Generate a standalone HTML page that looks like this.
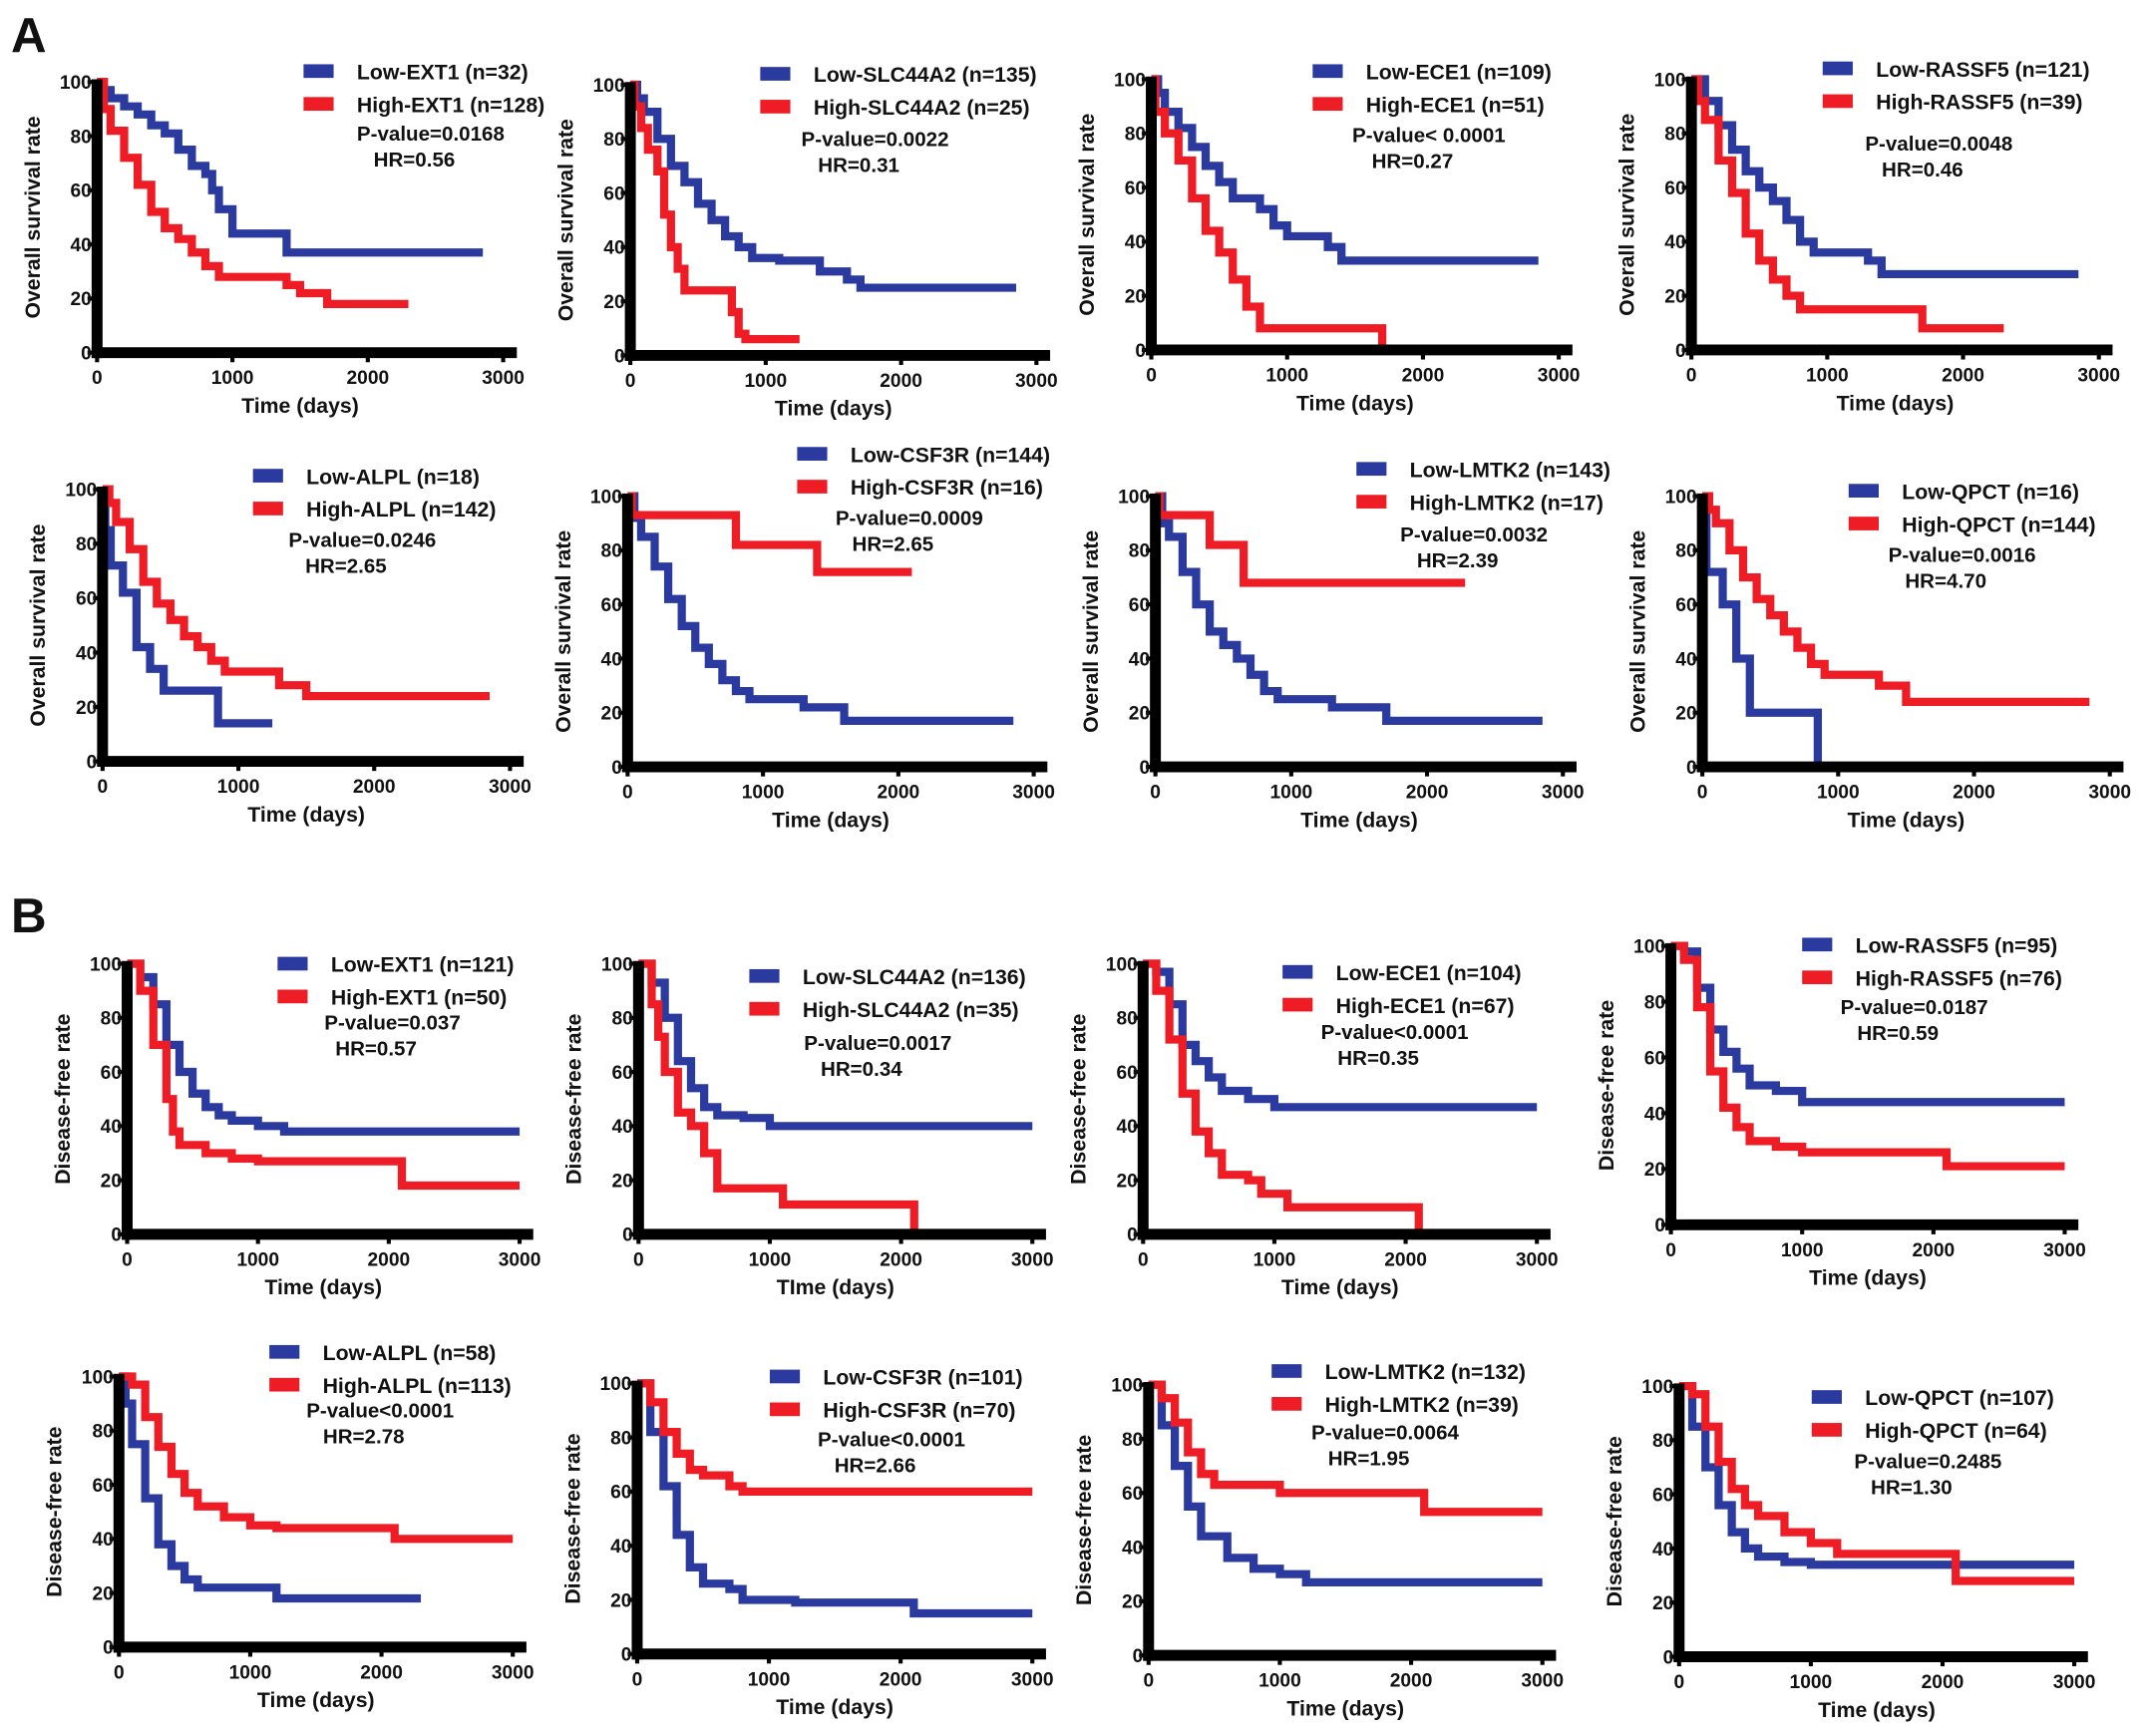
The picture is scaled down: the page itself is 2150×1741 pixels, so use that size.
<!DOCTYPE html>
<html><head><meta charset="utf-8"><style>
html,body{margin:0;padding:0;background:#fff;}
svg{display:block;}
text{font-family:"Liberation Sans",sans-serif;font-weight:bold;fill:#111;}
</style></head><body>
<svg id="fig" width="2150" height="1741" viewBox="0 0 1568 1270" preserveAspectRatio="none">
<text x="8" y="38" font-size="36">A</text>
<text x="8" y="682" font-size="36">B</text>
</svg>
<script>
// ---- data (time in days, survival %) ----
const xTicks=[0,1000,2000,3000];
const yTicks=[0,20,40,60,80,100];
const a1Low=[[0,100],[50,97],[100,94],[200,91],[300,88],[400,84],[500,81],[600,75],[700,69],[800,66],[850,60],[900,53],[1000,44],[1400,37],[2850,37]];
const a1High=[[0,100],[50,90],[100,82],[200,72],[300,62],[400,52],[500,46],[600,42],[700,37],[800,32],[900,28],[1400,25],[1500,22],[1700,18],[2300,18]];
const a2Low=[[0,100],[50,95],[100,90],[200,80],[300,70],[400,64],[500,56],[600,50],[700,44],[800,40],[900,36],[1100,35],[1400,31],[1600,28],[1700,25],[2850,25]];
const a2High=[[0,100],[30,92],[80,84],[130,76],[200,68],[250,52],[300,40],[350,32],[400,24],[750,16],[800,8],[850,6],[1250,6]];
const a3Low=[[0,100],[50,95],[100,88],[200,82],[300,75],[400,68],[500,62],[600,56],[800,52],[900,46],[1000,42],[1300,38],[1400,33],[2850,33]];
const a3High=[[0,100],[30,88],[100,80],[200,70],[300,56],[400,44],[500,36],[600,26],[700,16],[800,8],[1700,0],[1720,0]];
const a4Low=[[0,100],[100,92],[200,83],[300,74],[400,66],[500,60],[600,55],[700,48],[800,40],[900,36],[1300,33],[1400,28],[2850,28]];
const a4High=[[0,100],[50,92],[100,85],[200,70],[300,58],[400,43],[500,33],[600,26],[700,20],[800,15],[1700,8],[2300,8]];
const a5Low=[[0,100],[20,85],[60,72],[150,62],[250,42],[350,34],[450,26],[850,14],[1250,14]];
const a5High=[[0,100],[50,95],[100,88],[200,78],[300,66],[400,58],[500,52],[600,46],[700,42],[800,37],[900,33],[1300,28],[1500,24],[2850,24]];
const a6Low=[[0,100],[50,92],[100,85],[200,74],[300,62],[400,52],[500,44],[600,38],[700,32],[800,28],[900,25],[1300,22],[1600,17],[2850,17]];
const a6High=[[0,100],[30,93],[800,82],[1400,72],[2100,72]];
const a7Low=[[0,100],[50,90],[100,85],[200,72],[300,60],[400,50],[500,45],[600,40],[700,34],[800,28],[900,25],[1300,22],[1700,17],[2850,17]];
const a7High=[[0,100],[30,93],[400,82],[650,68],[2280,68]];
const a8Low=[[0,100],[30,72],[150,60],[250,40],[350,20],[850,0],[860,0]];
const a8High=[[0,100],[50,95],[100,90],[200,80],[300,70],[400,62],[500,56],[600,50],[700,44],[800,38],[900,34],[1300,30],[1500,24],[2850,24]];
const b1Low=[[0,100],[100,95],[200,85],[300,70],[400,60],[500,52],[600,47],[700,44],[800,42],[1000,40],[1200,38],[3000,38]];
const b1High=[[0,100],[100,90],[200,70],[300,50],[350,38],[400,33],[600,30],[800,28],[1000,27],[2100,18],[3000,18]];
const b2Low=[[0,100],[100,93],[200,80],[300,64],[400,54],[500,47],[600,44],[800,43],[1000,40],[3000,40]];
const b2High=[[0,100],[100,85],[150,73],[200,60],[300,45],[400,40],[500,30],[600,17],[1100,11],[2100,0],[2110,0]];
const b3Low=[[0,100],[100,97],[200,85],[300,70],[400,64],[500,58],[600,53],[800,50],[1000,47],[3000,47]];
const b3High=[[0,100],[100,90],[200,72],[300,52],[400,38],[500,30],[600,22],[800,20],[900,15],[1100,10],[2100,0],[2110,0]];
const b4Low=[[0,100],[100,98],[200,85],[300,70],[400,62],[500,56],[600,50],[800,48],[1000,44],[3000,44]];
const b4High=[[0,100],[100,95],[200,78],[300,55],[400,42],[500,35],[600,30],[800,28],[1000,26],[2100,21],[3000,21]];
const b5Low=[[0,100],[50,90],[100,75],[200,55],[300,38],[400,30],[500,25],[600,22],[1200,18],[2300,18]];
const b5High=[[0,100],[100,97],[200,85],[300,74],[400,64],[500,57],[600,52],[800,48],[1000,45],[1200,44],[2100,40],[3000,40]];
const b6Low=[[0,100],[100,82],[200,62],[300,44],[400,32],[500,26],[700,24],[800,20],[1200,19],[2100,15],[3000,15]];
const b6High=[[0,100],[100,93],[200,82],[300,74],[400,68],[500,66],[700,62],[800,60],[3000,60]];
const b7Low=[[0,100],[100,85],[200,70],[300,55],[400,44],[600,36],[800,32],[1000,30],[1200,27],[3000,27]];
const b7High=[[0,100],[100,95],[200,86],[300,75],[400,67],[500,63],[1000,60],[2100,53],[3000,53]];
const b8Low=[[0,100],[100,85],[200,70],[300,56],[400,46],[500,40],[600,37],[800,35],[1000,34],[3000,34]];
const b8High=[[0,100],[100,97],[200,85],[300,72],[400,62],[500,56],[600,52],[800,46],[1000,42],[1200,38],[2100,28],[3000,28]];
const lowLabels=["Low-EXT1 (n=32)","Low-SLC44A2 (n=135)","Low-ECE1 (n=109)","Low-RASSF5 (n=121)","Low-ALPL (n=18)","Low-CSF3R (n=144)","Low-LMTK2 (n=143)","Low-QPCT (n=16)","Low-EXT1 (n=121)","Low-SLC44A2 (n=136)","Low-ECE1 (n=104)","Low-RASSF5 (n=95)","Low-ALPL (n=58)","Low-CSF3R (n=101)","Low-LMTK2 (n=132)","Low-QPCT (n=107)"];
const highLabels=["High-EXT1 (n=128)","High-SLC44A2 (n=25)","High-ECE1 (n=51)","High-RASSF5 (n=39)","High-ALPL (n=142)","High-CSF3R (n=16)","High-LMTK2 (n=17)","High-QPCT (n=144)","High-EXT1 (n=50)","High-SLC44A2 (n=35)","High-ECE1 (n=67)","High-RASSF5 (n=76)","High-ALPL (n=113)","High-CSF3R (n=70)","High-LMTK2 (n=39)","High-QPCT (n=64)"];
const pValues=["P-value=0.0168","P-value=0.0022","P-value< 0.0001","P-value=0.0048","P-value=0.0246","P-value=0.0009","P-value=0.0032","P-value=0.0016","P-value=0.037","P-value=0.0017","P-value<0.0001","P-value=0.0187","P-value<0.0001","P-value<0.0001","P-value=0.0064","P-value=0.2485"];
const hrValues=["HR=0.56","HR=0.31","HR=0.27","HR=0.46","HR=2.65","HR=2.65","HR=2.39","HR=4.70","HR=0.57","HR=0.34","HR=0.35","HR=0.59","HR=2.78","HR=2.66","HR=1.95","HR=1.30"];
const lowSeries=[a1Low,a2Low,a3Low,a4Low,a5Low,a6Low,a7Low,a8Low,b1Low,b2Low,b3Low,b4Low,b5Low,b6Low,b7Low,b8Low];
const highSeries=[a1High,a2High,a3High,a4High,a5High,a6High,a7High,a8High,b1High,b2High,b3High,b4High,b5High,b6High,b7High,b8High];
// ---- layout ----
const layout=[
 {ox:71,y0:258,y1:60,x3:368,lx:222,ly:52,sx:315,sy:103,yt:"Overall survival rate",xt:"Time (days)"},
 {ox:461,y0:260,y1:62,x3:758,lx:556,ly:54,sx:640,sy:107,yt:"Overall survival rate",xt:"Time (days)"},
 {ox:842,y0:256,y1:58,x3:1140,lx:960,ly:52,sx:1045,sy:104,yt:"Overall survival rate",xt:"Time (days)"},
 {ox:1237,y0:256,y1:58,x3:1535,lx:1333,ly:50,sx:1418,sy:110,yt:"Overall survival rate",xt:"Time (days)"},
 {ox:75,y0:557,y1:358,x3:373,lx:185,ly:348,sx:265,sy:400,yt:"Overall survival rate",xt:"Time (days)"},
 {ox:459,y0:561,y1:363,x3:756,lx:583,ly:332,sx:665,sy:384,yt:"Overall survival rate",xt:"Time (days)"},
 {ox:845,y0:561,y1:363,x3:1143,lx:992,ly:343,sx:1078,sy:396,yt:"Overall survival rate",xt:"Time (days)"},
 {ox:1245,y0:561,y1:363,x3:1543,lx:1352,ly:359,sx:1435,sy:411,yt:"Overall survival rate",xt:"Time (days)"},
 {ox:93,y0:903,y1:705,x3:380,lx:203,ly:705,sx:287,sy:753,yt:"Disease-free rate",xt:"Time (days)"},
 {ox:467,y0:903,y1:705,x3:755,lx:548,ly:714,sx:642,sy:768,yt:"Disease-free rate",xt:"TIme (days)"},
 {ox:836,y0:903,y1:705,x3:1124,lx:938,ly:711,sx:1020,sy:760,yt:"Disease-free rate",xt:"Time (days)"},
 {ox:1222,y0:896,y1:692,x3:1510,lx:1318,ly:691,sx:1400,sy:742,yt:"Disease-free rate",xt:"Time (days)"},
 {ox:87,y0:1205,y1:1007,x3:375,lx:197,ly:989,sx:278,sy:1037,yt:"Disease-free rate",xt:"Time (days)"},
 {ox:466,y0:1210,y1:1012,x3:755,lx:563,ly:1007,sx:652,sy:1058,yt:"Disease-free rate",xt:"Time (days)"},
 {ox:840,y0:1211,y1:1013,x3:1128,lx:930,ly:1003,sx:1013,sy:1053,yt:"Disease-free rate",xt:"Time (days)"},
 {ox:1228,y0:1212,y1:1014,x3:1517,lx:1325,ly:1022,sx:1410,sy:1074,yt:"Disease-free rate",xt:"Time (days)"}];
const NS="http://www.w3.org/2000/svg";
const svg=document.getElementById('fig');
function mk(tag,attrs,parent){const e=document.createElementNS(NS,tag);for(const k in attrs)e.setAttribute(k,attrs[k]);parent.appendChild(e);return e;}
const BLUE="#2b3a9e",RED="#ee1c24";
layout.forEach((L,i)=>{
 const g=mk('g',{},svg);
 
 
 const xs=t=>L.ox+(t/3000)*(L.x3-L.ox);
 const ys=v=>L.y0-(v/100)*(L.y0-L.y1);
 function curve(data,color,name){
  let d='M'+xs(data[0][0])+' '+ys(data[0][1]);
  for(let k=1;k<data.length;k++){d+=' H'+xs(data[k][0])+' V'+ys(data[k][1]);}
  const p=mk('path',{d:d,fill:'none',stroke:color,'stroke-width':6,'stroke-linejoin':'miter'},g);
  
  
 }
 curve(lowSeries[i],BLUE,'low-expression-curve');
 curve(highSeries[i],RED,'high-expression-curve');
 const ya=mk('line',{x1:L.ox,y1:L.y1-2,x2:L.ox,y2:L.y0+4,stroke:'#000','stroke-width':8},g);
 
 
 const xa=mk('line',{x1:L.ox-4,y1:L.y0,x2:L.x3+10,y2:L.y0,stroke:'#000','stroke-width':8},g);
 
 
 yTicks.forEach(v=>{
  mk('line',{x1:L.ox-7,y1:ys(v),x2:L.ox,y2:ys(v),stroke:'#000','stroke-width':3},g);
  const t=mk('text',{x:L.ox-4,y:ys(v)+5,'font-size':14,'text-anchor':'end'},g);
  t.textContent=v;
  
  
 });
 xTicks.forEach(v=>{
  mk('line',{x1:xs(v),y1:L.y0,x2:xs(v),y2:L.y0+7,stroke:'#000','stroke-width':3},g);
  const t=mk('text',{x:xs(v),y:L.y0+23,'font-size':14,'text-anchor':'middle'},g);
  t.textContent=v;
  
  
 });
 const xt=mk('text',{x:(L.ox+L.x3)/2,y:L.y0+44,'font-size':15.5,'text-anchor':'middle'},g);
 xt.textContent=L.xt;
 
 
 const cy=(L.y0+L.y1)/2;
 const yt=mk('text',{x:L.ox-42,y:cy,'font-size':15.5,'text-anchor':'middle',transform:'rotate(-90 '+(L.ox-42)+' '+cy+')'},g);
 yt.textContent=L.yt;
 
 
 [[BLUE,lowLabels[i],0],[RED,highLabels[i],24]].forEach(([c,lab,dy])=>{
  const r=mk('rect',{x:L.lx,y:L.ly+dy-5,width:22,height:10,fill:c},g);
  
  
  const t=mk('text',{x:L.lx+39,y:L.ly+dy+6,'font-size':15.5},g);
  t.textContent=lab;
  
  
 });
 const pv=mk('text',{x:L.sx,y:L.sy,'font-size':15,'text-anchor':'middle'},g);
 pv.textContent=pValues[i];
 
 
 const hr=mk('text',{x:L.sx-12,y:L.sy+19,'font-size':15,'text-anchor':'middle'},g);
 hr.textContent=hrValues[i];
 
 
});
</script>
</body></html>
